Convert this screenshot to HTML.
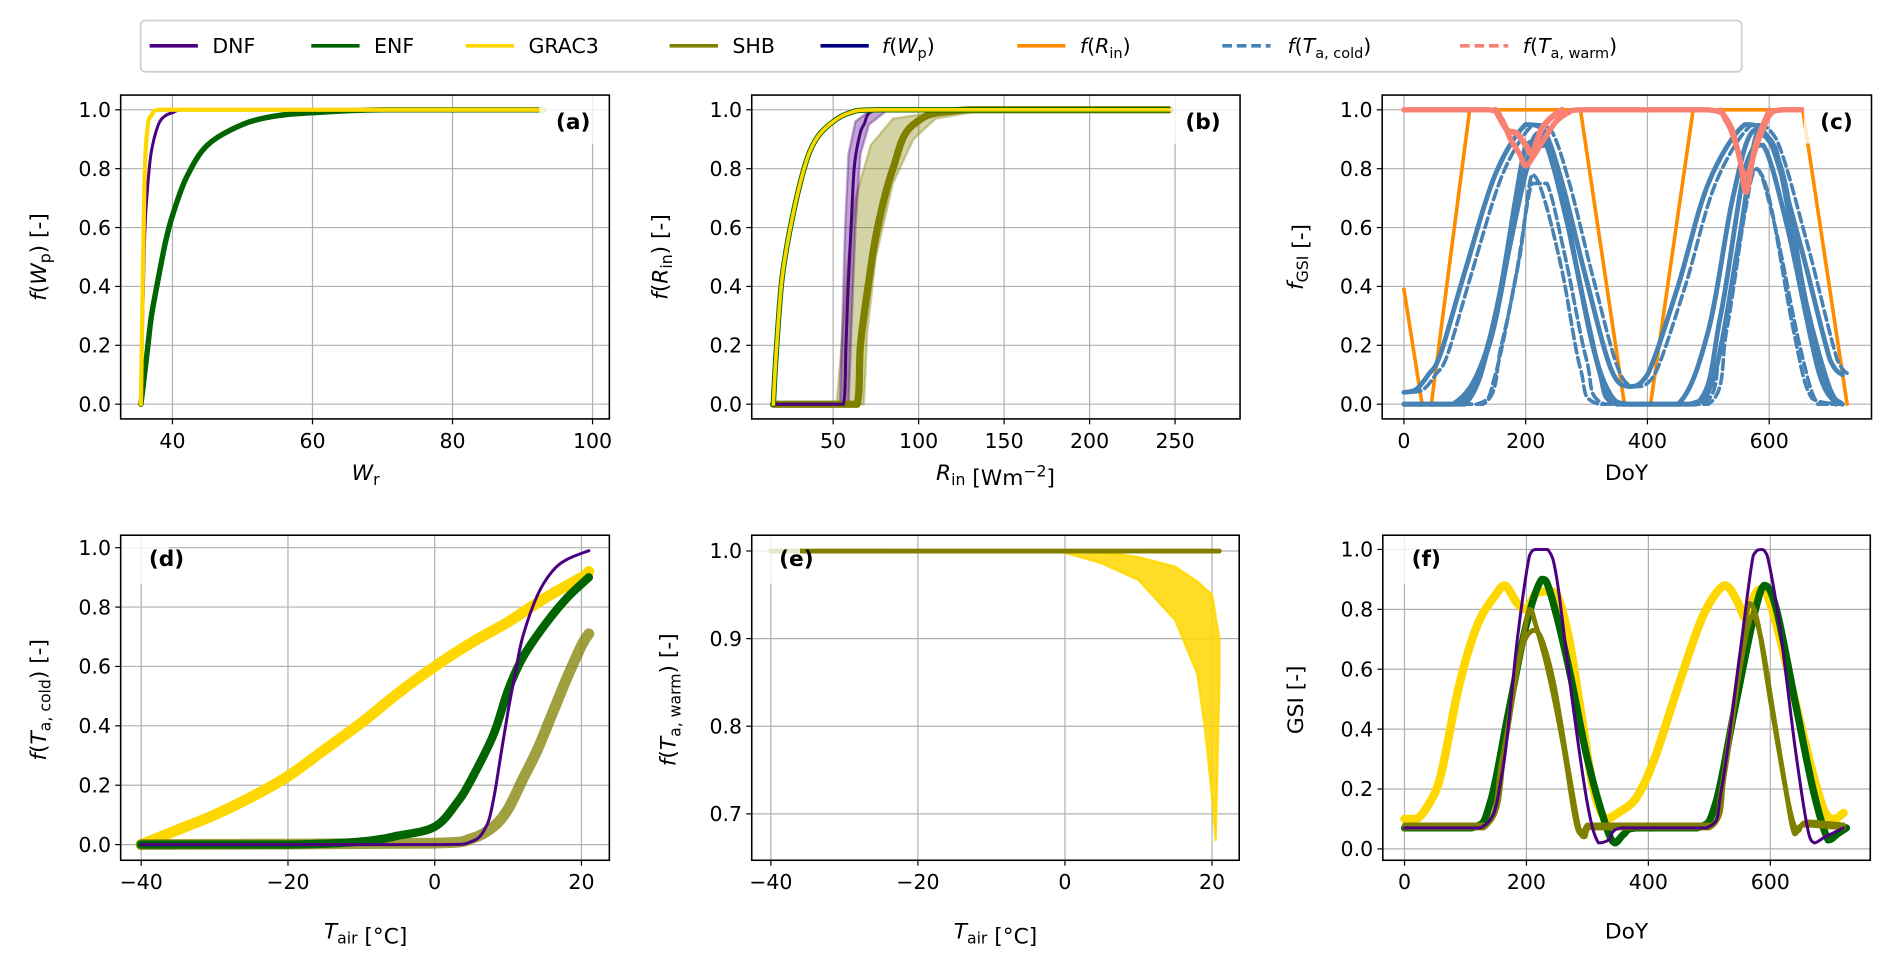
<!DOCTYPE html>
<html><head><meta charset="utf-8"><style>
html,body{margin:0;padding:0;background:#fff;}
svg{display:block;font-family:"DejaVu Sans","Liberation Sans",sans-serif;}
</style></head><body>
<svg id="fig" width="1892" height="958" viewBox="0 0 1568 794" preserveAspectRatio="none" xmlns="http://www.w3.org/2000/svg">
<rect x="0" y="0" width="1568" height="794" fill="#fff"/>
<g id="legend">
<rect x="116.5" y="17" width="1327" height="42.5" rx="4" fill="#fff" stroke="#d0d0d0" stroke-width="1.5"/>
<g><line x1="124" y1="38" x2="164" y2="38" stroke="#4b0082" stroke-width="3"/><text x="176" y="44" font-size="17">DNF</text></g>
<g><line x1="258" y1="38" x2="298" y2="38" stroke="#006400" stroke-width="3"/><text x="310" y="44" font-size="17">ENF</text></g>
<g><line x1="386" y1="38" x2="426" y2="38" stroke="#ffd700" stroke-width="3"/><text x="438" y="44" font-size="17">GRAC3</text></g>
<g><line x1="555" y1="38" x2="595" y2="38" stroke="#808000" stroke-width="3"/><text x="607" y="44" font-size="17">SHB</text></g>
<g><line x1="680" y1="38" x2="720" y2="38" stroke="#000080" stroke-width="3"/><text x="731" y="44" font-size="17"><tspan font-style="italic">f</tspan>(<tspan font-style="italic">W</tspan><tspan font-size="12" dy="4">p</tspan><tspan dy="-4">)</tspan></text></g>
<g><line x1="843" y1="38" x2="883" y2="38" stroke="#ff8c00" stroke-width="3"/><text x="895" y="44" font-size="17"><tspan font-style="italic">f</tspan>(<tspan font-style="italic">R</tspan><tspan font-size="12" dy="4">in</tspan><tspan dy="-4">)</tspan></text></g>
<g><line x1="1013" y1="38" x2="1053" y2="38" stroke="#4682b4" stroke-width="3" stroke-dasharray="8,4"/><text x="1067" y="44" font-size="17"><tspan font-style="italic">f</tspan>(<tspan font-style="italic">T</tspan><tspan font-size="12" dy="4">a, cold</tspan><tspan dy="-4">)</tspan></text></g>
<g><line x1="1210" y1="38" x2="1250" y2="38" stroke="#fa8072" stroke-width="3" stroke-dasharray="8,4"/><text x="1262" y="44" font-size="17"><tspan font-style="italic">f</tspan>(<tspan font-style="italic">T</tspan><tspan font-size="12" dy="4">a, warm</tspan><tspan dy="-4">)</tspan></text></g>
</g>
</svg>
<script>
// ---------- data ----------
// panel a
const aTicksX=[40,60,80,100];
const yTicksStd=[0.0,0.2,0.4,0.6,0.8,1.0];
const aENF=[[35.5,0],[36,0.1],[36.5,0.2],[37,0.3],[38,0.43],[39,0.55],[40,0.64],[42,0.77],[45,0.88],[50,0.95],[55,0.98],[60,0.99],[70,1],[93,1]];
const aDNF=[[35.5,0],[36,0.55],[36.5,0.75],[37,0.86],[38,0.95],[39,0.98],[40,0.99],[42,1],[93,1]];
const aGRAC3=[[35.5,0],[36,0.75],[36.5,0.95],[37,0.98],[38,1],[93,1]];
// panel b
const bTicksX=[50,100,150,200,250];
const bGRAC3=[[15,0],[17,0.2],[20,0.42],[25,0.6],[33,0.8],[40,0.9],[50,0.96],[60,0.99],[75,1],[247,1]];
const bDNF=[[15,0],[56,0],[57.5,0.2],[58.8,0.4],[60.5,0.6],[62.3,0.8],[65,0.9],[68,0.95],[76,1],[247,1]];
const bDNFlo=[[15,0],[54,0],[55.5,0.3],[57,0.6],[59,0.85],[63,0.96],[72,1],[247,1]];
const bDNFhi=[[15,0],[59,0],[61,0.3],[63,0.6],[66,0.85],[71,0.95],[82,1],[247,1]];
const bSHB=[[15,0],[64,0],[66,0.2],[70.4,0.4],[76,0.6],[85,0.8],[97,0.95],[130,1],[247,1]];
const bSHBlo=[[15,0],[52,0],[55,0.2],[58,0.45],[63,0.7],[72,0.88],[85,0.97],[120,1],[247,1]];
const bSHBhi=[[15,0],[68,0],[70,0.25],[75,0.5],[85,0.75],[97,0.9],[110,0.97],[140,1],[247,1]];
// panel c
const cTicksX=[0,200,400,600];
const cRin=[[0,0.39],[30,0],[45,0],[108,1],[290,1],[362,0],[405,0],[475,1],[655,1],[728,0]];
const cCold1=[[0,0.04],[20,0.05],[40,0.1],[60,0.17],[100,0.45],[150,0.78],[200,0.95],[230,0.93],[260,0.75],[300,0.42],[340,0.12],[370,0.06],[400,0.1],[450,0.4],[500,0.75],[560,0.95],[600,0.9],[650,0.55],[700,0.15],[720,0.1]];
const cCold2=[[0,0],[80,0],[130,0.15],[170,0.5],[200,0.8],[220,0.92],[250,0.82],[290,0.4],[330,0.05],[360,0],[470,0],[510,0.1],[550,0.55],[580,0.92],[610,0.87],[650,0.45],[690,0.08],[720,0]];
const cCold3=[[0,0],[130,0],[160,0.2],[190,0.5],[210,0.78],[230,0.7],[260,0.45],[290,0.12],[320,0],[490,0],[520,0.2],[550,0.55],[575,0.8],[600,0.7],[640,0.25],[670,0.02],[720,0]];
const cCold4=[[0,0],[100,0],[150,0.3],[200,0.88],[230,0.9],[270,0.6],[310,0.2],[340,0.03],[370,0],[450,0],[500,0.25],[540,0.7],[575,0.93],[620,0.8],[660,0.35],[700,0.05],[720,0]];
const cCold5=[[0,0],[90,0],[140,0.2],[180,0.6],[210,0.85],[240,0.88],[280,0.5],[320,0.12],[350,0],[480,0],[520,0.3],[560,0.8],[590,0.88],[630,0.6],[680,0.12],[710,0]];
const cCold6=[[0,0],[120,0],[150,0.1],[185,0.45],[210,0.75],[235,0.75],[265,0.5],[300,0.15],[330,0],[500,0],[530,0.25],[560,0.65],[580,0.8],[610,0.6],[650,0.2],[680,0],[720,0]];
const cWarm1=[[0,1],[140,1],[160,0.97],[175,0.9],[190,0.85],[200,0.81],[215,0.85],[230,0.9],[250,0.96],[270,0.99],[290,1],[500,1],[530,0.96],[550,0.85],[562,0.72],[575,0.85],[600,0.98],[620,1],[655,1]];
const cWarm2=[[150,1],[170,0.93],[185,0.92],[200,0.88],[210,0.85],[225,0.93],[240,0.97],[260,1]];
const cWarm3=[[520,1],[540,0.93],[555,0.8],[565,0.78],[580,0.9],[600,1]];
// panel d
const dTicksX=[-40,-20,0,20];
const dGRAC3=[[-40,0],[-35,0.05],[-30,0.1],[-25,0.16],[-20,0.23],[-15,0.32],[-10,0.41],[-5,0.51],[0,0.6],[5,0.68],[10,0.75],[15,0.83],[20,0.9],[21,0.92]];
const dENF=[[-40,0],[-20,0],[-10,0.01],[-5,0.03],[0,0.06],[3,0.14],[5,0.22],[8,0.37],[10,0.52],[12,0.63],[15,0.74],[18,0.83],[21,0.9]];
const dDNF=[[-40,0],[0,0],[5,0.01],[7,0.06],[8,0.15],[9,0.3],[10,0.45],[11,0.58],[12,0.7],[14,0.84],[16,0.92],[18,0.96],[21,0.99]];
const dSHB=[[-40,0],[0,0.005],[5,0.02],[8,0.06],[10,0.12],[12,0.22],[14,0.32],[16,0.44],[18,0.56],[20,0.67],[21,0.71]];
// panel e
const eTicksY=[0.7,0.8,0.9,1.0];
const eFlat=[[-40,1],[21,1]];
const eGRupper=[[-40,1],[0,1],[5,0.999],[10,0.993],[15,0.982],[18,0.965],[20,0.95],[21,0.9]];
const eGRlower=[[-40,1],[-5,1],[0,0.998],[5,0.986],[10,0.967],[15,0.921],[18,0.86],[19,0.8],[20,0.72],[20.5,0.67],[21,0.85]];
// panel f
const fDNF=[[0,0.07],[125,0.07],[160,0.25],[185,0.7],[205,0.98],[215,1],[235,1],[250,0.9],[275,0.5],[300,0.15],[318,0.02],[335,0.03],[355,0.07],[495,0.07],[520,0.2],[550,0.65],[572,0.98],[585,1],[595,0.98],[615,0.75],[640,0.35],[660,0.08],[672,0.02],[690,0.04],[720,0.07]];
const fENF=[[0,0.07],[110,0.07],[140,0.15],[170,0.45],[200,0.75],[225,0.9],[240,0.85],[270,0.6],[300,0.3],[330,0.08],[345,0.02],[360,0.05],[380,0.07],[480,0.07],[510,0.15],[540,0.45],[570,0.75],[590,0.88],[610,0.8],[640,0.5],[670,0.2],[695,0.03],[710,0.05],[725,0.07]];
const fSHB1=[[0,0.07],[130,0.07],[160,0.3],[185,0.6],[205,0.8],[215,0.75],[235,0.6],[260,0.35],[280,0.1],[290,0.05],[300,0.08],[310,0.07],[500,0.07],[520,0.2],[545,0.55],[565,0.82],[580,0.75],[600,0.5],[625,0.2],[640,0.05],[655,0.08],[720,0.07]];
const fSHB2=[[0,0.08],[135,0.08],[165,0.35],[190,0.65],[210,0.73],[225,0.7],[245,0.55],[270,0.25],[285,0.08],[295,0.04],[310,0.08],[505,0.08],[525,0.25],[550,0.6],[570,0.78],[585,0.7],[605,0.45],[630,0.15],[645,0.06],[660,0.09],[720,0.08]];
const fGRAC3=[[0,0.1],[20,0.1],[40,0.15],[60,0.25],[90,0.55],[120,0.75],[150,0.85],[165,0.88],[185,0.82],[200,0.8],[215,0.85],[235,0.86],[250,0.85],[270,0.7],[290,0.45],[310,0.2],[330,0.1],[350,0.12],[380,0.17],[410,0.3],[450,0.55],[490,0.78],[525,0.88],[545,0.83],[560,0.77],[575,0.85],[590,0.87],[610,0.75],[640,0.5],[670,0.25],[690,0.12],[705,0.1],[720,0.12]];

// ---------- drawing ----------
const NS="http://www.w3.org/2000/svg";
const svg=document.getElementById('fig');
function mk(tag,attrs,parent){const e=document.createElementNS(NS,tag);for(const k in attrs)e.setAttribute(k,attrs[k]);(parent||svg).appendChild(e);return e;}
let clipN=0;
function panel(id,box,xlim,ylim,xticks,yticks){
  const g=mk('g',{});
  
  
  const sx=v=>box.l+(v-xlim[0])/(xlim[1]-xlim[0])*(box.r-box.l);
  const sy=v=>box.b-(v-ylim[0])/(ylim[1]-ylim[0])*(box.b-box.t);
  const grid=mk('g',{},g);
  
  
  xticks.forEach(t=>{const X=sx(t);mk('line',{x1:X,x2:X,y1:box.t,y2:box.b,stroke:'#b0b0b0','stroke-width':1},grid);
    mk('line',{x1:X,x2:X,y1:box.b,y2:box.b+4.5,stroke:'#000','stroke-width':1},g);
    const tx=mk('text',{x:X,y:box.b+24,'font-size':17,'text-anchor':'middle'},g);
    
    
    tx.textContent=String(t).replace('-','\u2212');});
  yticks.forEach(t=>{const Y=sy(t);mk('line',{x1:box.l,x2:box.r,y1:Y,y2:Y,stroke:'#b0b0b0','stroke-width':1},grid);
    mk('line',{x1:box.l-4.5,x2:box.l,y1:Y,y2:Y,stroke:'#000','stroke-width':1},g);
    const ty=mk('text',{x:box.l-8,y:Y+6,'font-size':17,'text-anchor':'end'},g);
    
    
    ty.textContent=t.toFixed(1);});
  const cid='clip'+(clipN++);
  const cp=mk('clipPath',{id:cid},g);mk('rect',{x:box.l,y:box.t,width:box.r-box.l,height:box.b-box.t},cp);
  const plot=mk('g',{'clip-path':'url(#'+cid+')'},g);
  return {g,plot,sx,sy,box};
}
// smooth path through screen points (Catmull-Rom, control y clamped to segment range)
function smoothD(P,pts,smooth){
  const s=pts.map(p=>[P.sx(p[0]),P.sy(p[1])]);
  if(!smooth) return s.map((p,i)=>(i?'L':'M')+p[0].toFixed(1)+','+p[1].toFixed(1)).join('');
  let d='M'+s[0][0].toFixed(1)+','+s[0][1].toFixed(1);
  const cl=(v,a,b)=>Math.max(Math.min(a,b),Math.min(Math.max(a,b),v));
  for(let i=0;i<s.length-1;i++){
    const p0=s[Math.max(0,i-1)],p1=s[i],p2=s[i+1],p3=s[Math.min(s.length-1,i+2)];
    let c1x=p1[0]+(p2[0]-p0[0])/6,c1y=p1[1]+(p2[1]-p0[1])/6;
    let c2x=p2[0]-(p3[0]-p1[0])/6,c2y=p2[1]-(p3[1]-p1[1])/6;
    c1x=cl(c1x,p1[0],p2[0]);c2x=cl(c2x,p1[0],p2[0]);
    c1y=cl(c1y,p1[1],p2[1]);c2y=cl(c2y,p1[1],p2[1]);
    d+='C'+c1x.toFixed(1)+','+c1y.toFixed(1)+' '+c2x.toFixed(1)+','+c2y.toFixed(1)+' '+p2[0].toFixed(1)+','+p2[1].toFixed(1);
  }
  return d;
}
function line(P,pts,color,w,name,extra,linear){
  const e=mk('path',Object.assign({d:smoothD(P,pts,!linear),fill:'none',stroke:color,'stroke-width':w,'stroke-linejoin':'round','stroke-linecap':'round'},extra||{}),P.plot);
  
  
  return e;
}
function band(P,lo,hi,color,op,name){
  const pts=lo.concat(hi.slice().reverse());
  const d=pts.map((p,i)=>(i?'L':'M')+P.sx(p[0]).toFixed(1)+','+P.sy(p[1]).toFixed(1)).join('')+'Z';
  const e=mk('path',{d:d,fill:color,'fill-opacity':op,stroke:color,'stroke-opacity':op,'stroke-width':2,'stroke-linejoin':'round'},P.plot);
  
  
}
function finish(P,label,lx,ly,rx,ry,rw,rh){
  mk('rect',{x:rx,y:ry,width:rw,height:rh,fill:'#fff','fill-opacity':0.8},P.g);
  const t=mk('text',{x:lx,y:ly,'font-size':18,'font-weight':'bold','text-anchor':'middle'},P.g);
  
  
  t.textContent=label;
  const b=P.box;
  mk('rect',{x:b.l,y:b.t,width:b.r-b.l,height:b.b-b.t,fill:'none',stroke:'#000','stroke-width':1.3},P.g);
}
function axlabel(html,x,y,rot,name){
  const t=mk('text',{x:x,y:y,'font-size':18,'text-anchor':'middle'});
  if(rot)t.setAttribute('transform','rotate(-90 '+x+' '+y+')');
  
  
  t.innerHTML=html;
}
const I=s=>'<tspan font-style="italic">'+s+'</tspan>';
const sub=s=>'<tspan font-size="13" dy="4">'+s+'</tspan><tspan dy="-4">';
const row1={t:78.8,b:347.2}, row2={t:443.6,b:713};

// (a)
let A=panel('a',{l:100,r:505,t:row1.t,b:row1.b},[32.6,102.4],[-0.05,1.05],aTicksX,yTicksStd);
line(A,aENF,'#006400',4.5,'line-enf');
line(A,aDNF,'#4b0082',2.5,'line-dnf');
line(A,aGRAC3,'#ffd700',3.5,'line-grac3');
finish(A,'(a)',475,107,447,79,58,40);
axlabel(I('W')+sub('r')+'</tspan>',303,398,false,'x-axis-title-a');
axlabel(I('f')+'('+I('W')+sub('p')+')</tspan> [-]',38,213,true,'y-axis-title-a');

// (b)
let B=panel('b',{l:623,r:1027.7,t:row1.t,b:row1.b},[2.4,288],[-0.05,1.05],bTicksX,yTicksStd);
band(B,bSHBlo,bSHBhi,'#808000',0.35,'band-shb');
band(B,bDNFlo,bDNFhi,'#4b0082',0.35,'band-dnf');
line(B,bSHB,'#808000',6,'line-shb');
line(B,bDNF,'#4b0082',2.5,'line-dnf');
line(B,bGRAC3,'#006400',4.5,'line-enf');
line(B,bGRAC3,'#ffd700',3,'line-grac3');
finish(B,'(b)',997,107,970,79,58,40);
axlabel(I('R')+sub('in')+'</tspan> [Wm<tspan font-size="13" dy="-7">−2</tspan><tspan dy="7">]</tspan>',825,398,false,'x-axis-title-b');
axlabel(I('f')+'('+I('R')+sub('in')+')</tspan> [-]',553,213,true,'y-axis-title-b');

// (c)
let C=panel('c',{l:1145.5,r:1551,t:row1.t,b:row1.b},[-35.7,768],[-0.05,1.05],cTicksX,yTicksStd);
line(C,cRin,'#ff8c00',3,'line-f-rin',null,true);
[cCold1,cCold2,cCold4,cCold5].forEach(s=>line(C,s,'#4682b4',4,'line-f-ta-cold'));
[cCold3,cCold6].forEach(s=>line(C,s,'#4682b4',3,'line-f-ta-cold-dashed',{'stroke-dasharray':'8,4'}));
line(C,cCold1,'#4682b4',3,'line-f-ta-cold-dashed',{'stroke-dasharray':'8,4','transform':'translate(6,0)'});
line(C,cWarm1,'#fa8072',4.5,'line-f-ta-warm');
line(C,cWarm2,'#fa8072',5,'line-f-ta-warm');
line(C,cWarm3,'#fa8072',4,'line-f-ta-warm');
finish(C,'(c)',1522,107,1495,79,58,40);
axlabel('DoY',1348,398,false,'x-axis-title-c');
axlabel(I('f')+sub('GSI')+'</tspan> [-]',1080,213,true,'y-axis-title-c');

// (d)
let D=panel('d',{l:100,r:505,t:row2.t,b:row2.b},[-42.8,23.8],[-0.0528,1.042],dTicksX,yTicksStd);
line(D,dGRAC3,'#ffd700',9,'line-grac3');
line(D,dSHB,'#808000',9,'line-shb',{'stroke-opacity':0.75});
line(D,dENF,'#006400',7,'line-enf');
line(D,dDNF,'#4b0082',2.5,'line-dnf');
finish(D,'(d)',138,469,100,443.6,40,40);
axlabel(I('T')+sub('air')+'</tspan> [°C]',303,778,false,'x-axis-title-d');
axlabel(I('f')+'('+I('T')+sub('a, cold')+')</tspan> [-]',38,580,true,'y-axis-title-d');

// (e)
let E=panel('e',{l:623,r:1027,t:row2.t,b:row2.b},[-42.6,23.7],[0.647,1.018],dTicksX,eTicksY);
band(E,eGRlower,eGRupper,'#ffd700',0.85,'band-grac3');
line(E,eFlat,'#808000',4,'line-shb',null,true);
finish(E,'(e)',660,469,623,443.6,40,40);
axlabel(I('T')+sub('air')+'</tspan> [°C]',825,778,false,'x-axis-title-e');
axlabel(I('f')+'('+I('T')+sub('a, warm')+')</tspan> [-]',560,580,true,'y-axis-title-e');

// (f)
let F=panel('f',{l:1146,r:1550,t:row2.t,b:row2.b},[-35.6,764],[-0.038,1.0475],cTicksX,yTicksStd);
line(F,fGRAC3,'#ffd700',7,'line-grac3');
line(F,fENF,'#006400',6,'line-enf');
line(F,fSHB1,'#808000',4,'line-shb');
line(F,fSHB2,'#808000',4,'line-shb');
line(F,fDNF,'#4b0082',2.5,'line-dnf');
finish(F,'(f)',1182,469,1146,443.6,40,40);
axlabel('DoY',1348,778,false,'x-axis-title-f');
axlabel('GSI [-]',1080,580,true,'y-axis-title-f');
</script>
</body></html>
